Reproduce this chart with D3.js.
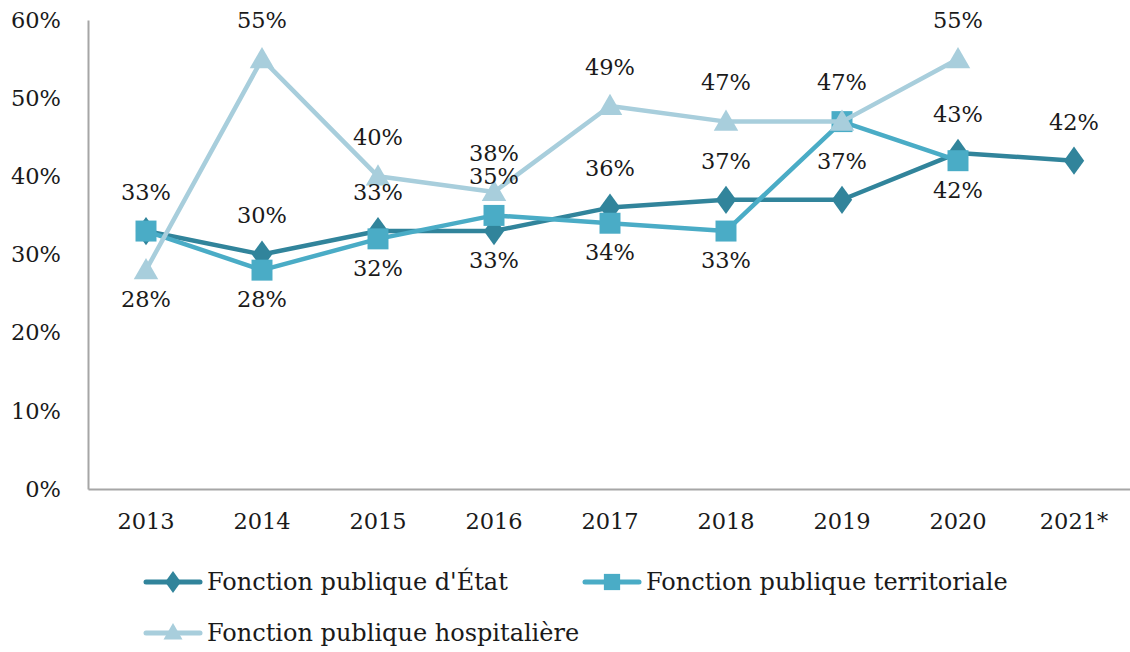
<!DOCTYPE html>
<html>
<head>
<meta charset="utf-8">
<script src="https://cdn.jsdelivr.net/npm/d3@7"></script>
<style>
  body { margin: 0; background: #fff; }
  svg text { font-family: "DejaVu Serif", "Liberation Serif", serif; fill: #1a1a1a; }
</style>
</head>
<body>
<svg id="chart" width="1130" height="652"></svg>
<script>
// data
var years = ["2013", "2014", "2015", "2016", "2017", "2018", "2019", "2020", "2021*"];
var etat = [33, 30, 33, 33, 36, 37, 37, 43, 42];
var territoriale = [33, 28, 32, 35, 34, 33, 47, 42, null];
var hospitaliere = [28, 55, 40, 38, 49, 47, 47, 55, null];
var yTicks = [0, 10, 20, 30, 40, 50, 60];
// label side: 1 = above, -1 = below, 0 = hidden
var etatLabelSide = [1, 1, 1, -1, 1, 1, 1, 1, 1];
var terrLabelSide = [0, -1, -1, 1, -1, -1, 0, -1, 0];
var hospLabelSide = [-1, 1, 1, 1, 1, 1, 1, 1, 0];

var FONT = "DejaVu Serif";
var FS = 22.5;
var FS_LEG = 24;

var series = [
  { name: "Fonction publique d'État", values: etat, side: etatLabelSide, color: "#31849b", shape: d3.symbolDiamond, size: 230 },
  { name: "Fonction publique territoriale", values: territoriale, side: terrLabelSide, color: "#4aacc6", shape: d3.symbolSquare, size: 440 },
  { name: "Fonction publique hospitalière", values: hospitaliere, side: hospLabelSide, color: "#a8cedc", shape: d3.symbolTriangle, size: 260 }
];

var svg = d3.select("#chart");
var margin = { top: 20, left: 88, bottom: 489, right: 1132 };

var x = d3.scaleBand().domain(years).range([margin.left, margin.right]);
var y = d3.scaleLinear().domain([0, 60]).range([margin.bottom, margin.top]);

// axes
var yAxis = d3.axisLeft(y).tickValues(yTicks).tickSize(0).tickFormat(function(d) { return d + "%"; });
var gy = svg.append("g").attr("transform", "translate(" + margin.left + ",0)").call(yAxis);
gy.select(".domain").attr("stroke", "#a6a6a6").attr("stroke-width", 2);
gy.selectAll("text").attr("x", -27).attr("font-size", FS).style("font-family", FONT).attr("fill", "#1a1a1a");

var xAxis = d3.axisBottom(x).tickSize(0);
var gx = svg.append("g").attr("transform", "translate(0," + margin.bottom + ")").call(xAxis);
gx.select(".domain").attr("stroke", "#a6a6a6").attr("stroke-width", 2);
gx.selectAll("text").attr("y", 24).attr("dy", "0.71em").attr("font-size", FS).style("font-family", FONT).attr("fill", "#1a1a1a");

var cx = function(i) { return x(years[i]) + x.bandwidth() / 2; };

var line = d3.line()
  .defined(function(d) { return d != null; })
  .x(function(d, i) { return cx(i); })
  .y(function(d) { return y(d); });

series.forEach(function(s) {
  var g = svg.append("g");
  g.append("path")
    .attr("d", line(s.values))
    .attr("fill", "none")
    .attr("stroke", s.color)
    .attr("stroke-width", 4.5)
    .attr("stroke-linejoin", "round");
  g.selectAll("path.mk")
    .data(s.values.map(function(v, i) { return { v: v, i: i }; }).filter(function(d) { return d.v != null; }))
    .enter().append("path")
    .attr("class", "mk")
    .attr("d", d3.symbol().type(s.shape).size(s.size))
    .attr("transform", function(d) {
      var ty = y(d.v) + (s.shape === d3.symbolTriangle ? 2 : 0);
      return "translate(" + cx(d.i) + "," + ty + ")" + (s.shape === d3.symbolDiamond ? " scale(1.25,1)" : "");
    })
    .attr("fill", s.color);
});

// data labels
series.forEach(function(s) {
  svg.append("g").selectAll("text")
    .data(s.values.map(function(v, i) { return { v: v, i: i, side: s.side[i] }; }).filter(function(d) { return d.v != null && d.side !== 0; }))
    .enter().append("text")
    .attr("x", function(d) { return cx(d.i); })
    .attr("y", function(d) { return y(d.v) + (d.side > 0 ? -39 : 29); })
    .attr("dy", "0.35em")
    .attr("text-anchor", "middle")
    .attr("font-size", FS)
    .text(function(d) { return d.v + "%"; });
});

// legend
var legendPos = [[146, 582], [585, 582], [146, 633]];
series.forEach(function(s, k) {
  var g = svg.append("g").attr("transform", "translate(" + legendPos[k][0] + "," + legendPos[k][1] + ")");
  g.append("line").attr("x1", 0).attr("x2", 54).attr("y1", 0).attr("y2", 0)
    .attr("stroke", s.color).attr("stroke-width", 5).attr("stroke-linecap", "round");
  g.append("path")
    .attr("d", d3.symbol().type(s.shape).size(s.size * 0.6))
    .attr("transform", "translate(27," + (s.shape === d3.symbolTriangle ? 1 : 0) + ")" + (s.shape === d3.symbolDiamond ? " scale(1.25,1)" : ""))
    .attr("fill", s.color);
  g.append("text").attr("x", 61).attr("dy", "0.35em").attr("font-size", FS_LEG).text(s.name);
});
</script>
</body>
</html>
